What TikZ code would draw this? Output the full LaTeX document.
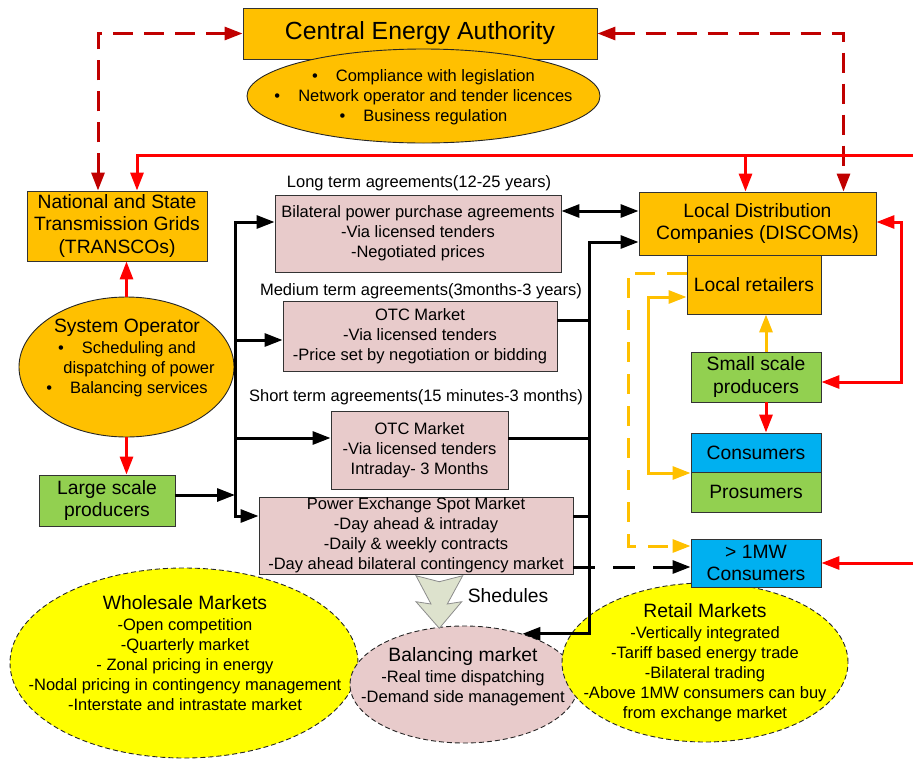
\documentclass[tikz,border=0pt]{standalone}
\usepackage{fontspec}
\setmainfont{Liberation Sans}
\usetikzlibrary{arrows.meta,shapes.geometric}
\definecolor{org}{HTML}{FFC000}
\definecolor{grn}{HTML}{92D050}
\definecolor{blu}{HTML}{00B0F0}
\definecolor{pnk}{HTML}{E8CBCB}
\definecolor{ylw}{HTML}{FFFF00}
\definecolor{drd}{HTML}{C00000}
\definecolor{rd}{HTML}{FF0000}
\definecolor{shd}{HTML}{DDE2CD}
\newcommand\fbig{\fontsize{19.3}{22.5}\selectfont}
\newcommand\fsmall{\fontsize{16.5}{20}\selectfont}
\newcommand\ftitle{\fontsize{24.8}{28}\selectfont}
\begin{document}
\begin{tikzpicture}[x=1pt,y=-1pt,
  >={Triangle[length=18pt 0 0,width=13pt 0 0]},
  box/.style={draw=black!80, line width=0.9pt, inner sep=0pt, align=center, font=\fbig},
  pbox/.style={box, fill=pnk, font=\fsmall},
  ell/.style={ellipse, draw=black!85, line width=0.9pt, inner sep=0pt},
  dell/.style={ell, dash pattern=on 5pt off 3pt},
  txt/.style={inner sep=0pt, align=center, font=\fsmall},
  blk/.style={line width=3pt, black},
  rdl/.style={line width=3pt, rd},
  drl/.style={line width=3pt, drd, dash pattern=on 20pt off 11pt},
  orl/.style={line width=3pt, org},
  odl/.style={orl, dash pattern=on 20pt off 12pt},
  bdl/.style={blk, dash pattern=on 22pt off 18pt}]
\useasboundingbox (0,0) rectangle (913,758);

% bottom ellipses
\node[dell, fill=ylw, minimum width=348pt, minimum height=190pt] (whole) at (184,663) {};
\node[txt] (wholetext) at (185,653) {{\fbig Wholesale Markets}\\[1pt]-Open competition\\-Quarterly market\\- Zonal pricing in energy\\-Nodal pricing in contingency management\\-Interstate and intrastate market};
\node[dell, fill=pnk, minimum width=228pt, minimum height=117pt] (bal) at (464,684.5) {};
\node[txt] (baltext) at (463,677) {{\fbig Balancing market}\\[1pt]-Real time dispatching\\-Demand side management};
\node[dell, fill=ylw, minimum width=286pt, minimum height=159pt] (retail) at (705,662.5) {};
\node[txt] (retailtext) at (705,663) {{\fbig Retail Markets}\\[1pt]-Vertically integrated\\-Tariff based energy trade\\-Bilateral trading\\-Above 1MW consumers can buy\\from exchange market};

% schedules arrow
\filldraw[fill=shd, draw=black!45, line width=0.8pt] (416,575.7) -- (439.3,581.7) -- (462.7,575.7) -- (447.3,604) -- (461.7,601.7) -- (439.3,628.3) -- (416,601.7) -- (431,604) -- cycle;
\node[txt, font=\fbig] (shlab) at (508,596) {Shedules};

% top
\node[box, fill=org, font=\ftitle, minimum width=354pt, minimum height=51pt] (cea) at (420,33.5) {Central Energy Authority};
\node[ell, fill=org, minimum width=353pt, minimum height=94pt] (ceaell) at (423.5,96) {};
\node[txt] (ceatext) at (423.5,97) {•\hspace{18pt}Compliance with legislation\\•\hspace{18pt}Network operator and tender licences\\•\hspace{18pt}Business regulation};

% left column
\node[box, fill=org, minimum width=180pt, minimum height=70pt] (transco) at (117,226) {National and State\\Transmission Grids\\(TRANSCOs)};
\node[ell, fill=org, minimum width=215pt, minimum height=140pt] (so) at (126.5,367) {};
\node[txt] (sotext) at (127,358) {{\fbig System Operator}\\[1pt]•\hspace{18pt}Scheduling and\\\hspace*{24pt}dispatching of power\\•\hspace{18pt}Balancing services};
\node[box, fill=grn, minimum width=136pt, minimum height=51pt] (lsp) at (107,500.5) {Large scale\\producers};

% middle column
\node[txt] (ltlab) at (419,183) {Long term agreements(12-25 years)};
\node[pbox, minimum width=286pt, minimum height=77pt] (bilat) at (418,233.5) {Bilateral power purchase agreements\\-Via licensed tenders\\-Negotiated prices};
\node[txt] (mtlab) at (421,291) {Medium term agreements(3months-3 years)};
\node[pbox, minimum width=274pt, minimum height=70pt] (otcA) at (420,336) {OTC Market\\-Via licensed tenders\\-Price set by negotiation or bidding};
\node[txt] (stlab) at (416,397) {Short term agreements(15 minutes-3 months)};
\node[pbox, minimum width=177pt, minimum height=78pt] (otcB) at (419.5,450) {OTC Market\\-Via licensed tenders\\Intraday- 3 Months};
\node[pbox, minimum width=314pt, minimum height=77pt] (px) at (416,535.5) {Power Exchange Spot Market\\-Day ahead \& intraday\\-Daily \& weekly contracts\\-Day ahead bilateral contingency market};

% right column
\node[box, fill=org, minimum width=237pt, minimum height=63pt] (discom) at (757.5,223.5) {Local Distribution\\Companies (DISCOMs)};
\node[box, fill=org, minimum width=134pt, minimum height=59pt] (lr) at (754,284.5) {Local retailers};
\node[box, fill=grn, minimum width=130pt, minimum height=50pt] (ssp) at (756,377) {Small scale\\producers};
\node[box, fill=blu, minimum width=130pt, minimum height=39.5pt] (cons) at (756,452.75) {Consumers};
\node[box, fill=grn, minimum width=130pt, minimum height=39.5pt] (pros) at (756,492.25) {Prosumers};
\node[box, fill=blu, minimum width=130pt, minimum height=48pt] (mw) at (756,563) {> 1MW\\Consumers};

% dashed dark red
\coordinate (dL) at (98,33.5);
\coordinate (dR) at (843.5,33.5);
\draw[drl, <->] (dL |- transco.north) -- (dL) -- (dL -| cea.west);
\draw[drl, <->] (dR -| cea.east) -- (dR) -- (dR |- discom.north);

% red top line
\coordinate (rR) at (913,155);
\coordinate (rL) at (137,155);
\coordinate (rM) at (745.5,155);
\draw[rdl, ->] (rR) -- (rL) -- (rL |- transco.north);
\draw[rdl, ->] (rM) -- (rM |- discom.north);

% system operator
\draw[rdl, ->] (so.north) -- (so.north |- transco.south);
\draw[rdl, ->] (so.south) -- (so.south |- lsp.north);

% left bus
\coordinate (lbT) at (235,222);
\coordinate (lbB) at (235,516);
\coordinate (lbA) at (235,340);
\coordinate (lbS) at (235,438);
\coordinate (lbL) at (235,495);
\draw[blk, <->] (lbT -| bilat.west) -- (lbT) -- (lbB) -- (lbB -| px.west);
\draw[blk, ->] (lbA) -- (lbA -| otcA.west);
\draw[blk, ->] (lbS) -- (lbS -| otcB.west);
\draw[blk, ->] (lbL -| lsp.east) -- (lbL);

% right bus
\coordinate (rbT) at (589,242);
\coordinate (rbA) at (589,320);
\coordinate (rbS) at (589,438);
\coordinate (rbP) at (589,516);
\coordinate (bd) at (589,211);
\coordinate (dd) at (589,567);
\draw[blk, <->] (bal.41) -| (rbT) -- (rbT -| discom.west);
\draw[blk] (rbA -| otcA.east) -- (rbA);
\draw[blk] (rbS -| otcB.east) -- (rbS);
\draw[blk] (rbP -| px.east) -- (rbP);
\draw[blk, <->] (bd -| bilat.east) -- (bd -| discom.west);
\draw[bdl, ->] (dd -| px.east) -- (dd -| mw.west);

% red right
\coordinate (rrT) at (901,222);
\coordinate (rrB) at (901,382);
\draw[rdl, <->] (rrT -| discom.east) -- (rrT) -- (rrB) -- (rrB -| ssp.east);
\coordinate (vx) at (766,400);
\draw[rdl, ->] (vx |- ssp.south) -- (vx |- cons.north);
\draw[orl, ->] (vx |- ssp.north) -- (vx |- lr.south);
\coordinate (rmw) at (913,563);
\draw[rdl, ->] (rmw) -- (rmw -| mw.east);

% orange
\coordinate (oT) at (648,297);
\coordinate (oB) at (648,473);
\draw[orl, <->] (oT -| lr.west) -- (oT) -- (oB) -- (oB -| cons.west);
\coordinate (odT) at (628,273);
\coordinate (odB) at (628,546);
\draw[odl, ->] (odT -| lr.west) -- (odT) -- (odB) -- (odB -| mw.west);
\end{tikzpicture}
\end{document}
